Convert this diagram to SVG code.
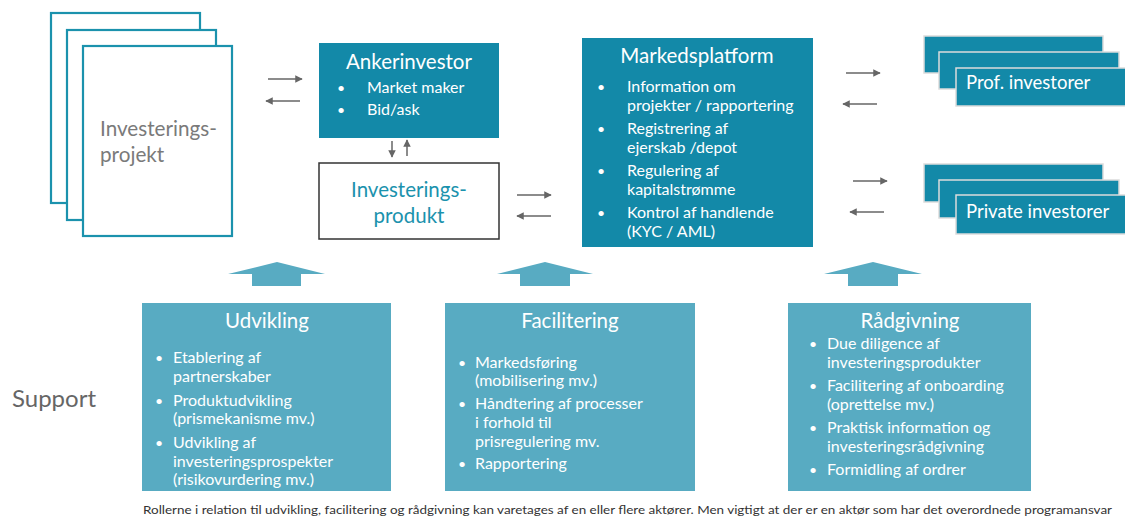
<svg xmlns="http://www.w3.org/2000/svg" width="1125" height="519" viewBox="0 0 1125 519">
  <style>
    text { font-family: Lato, "Open Sans", "Liberation Sans", sans-serif; }
    .page { fill: #ffffff; stroke: #1b92ad; stroke-width: 2.2; }
    .dark { fill: #1389a8; }
    .inv { fill: #1389a8; stroke: #dcdcdc; stroke-width: 1.5; }
    .light { fill: #58abc2; }
    .up { fill: #58abc2; }
    .title { fill: #ffffff; font-size: 20.5px; text-anchor: middle; }
    .item { fill: #ffffff; font-size: 16px; }
    .bul { fill: #ffffff; font-size: 14px; }
    .conn { stroke: #666666; stroke-width: 1.5; fill: none; marker-end: url(#ah); }
  </style>
  <defs>
    <marker id="ah" viewBox="0 0 10 10" refX="9" refY="5" markerWidth="5" markerHeight="5" orient="auto" markerUnits="strokeWidth">
      <path d="M0,0 L10,5 L0,10 z" fill="#666666"/>
    </marker>
  </defs>
  <rect width="1125" height="519" fill="#ffffff"/>

  <!-- project stack -->
  <g id="investeringsprojekt">
    <rect class="page" x="51" y="13" width="149" height="190"/>
    <rect class="page" x="67" y="30" width="149" height="190"/>
    <rect class="page" x="83" y="46" width="149" height="190"/>
    <text x="100" y="136" font-size="20.7" fill="#7a7a7a">Investerings-</text>
    <text x="100" y="162" font-size="20.7" fill="#7a7a7a">projekt</text>
  </g>

  <g id="ankerinvestor">
    <rect class="dark" x="319" y="43" width="180" height="95"/>
    <text class="title" x="409" y="69">Ankerinvestor</text>
    <text class="bul" x="337" y="93">•</text>
    <text class="item" x="367" y="93">Market maker</text>
    <text class="bul" x="337" y="115">•</text>
    <text class="item" x="367" y="115">Bid/ask</text>
  </g>

  <g id="investeringsprodukt">
    <rect x="319" y="163" width="180" height="76" fill="#ffffff" stroke="#333333" stroke-width="1.5"/>
    <text x="409" y="197" font-size="20.5" fill="#1b92ad" text-anchor="middle">Investerings-</text>
    <text x="409" y="223" font-size="20.5" fill="#1b92ad" text-anchor="middle">produkt</text>
  </g>

  <g id="markedsplatform">
    <rect class="dark" x="582" y="38" width="231" height="209"/>
    <text class="title" x="697" y="63">Markedsplatform</text>
    <text class="bul" x="597" y="92">•</text>
    <text class="item" x="627" y="92">Information om</text>
    <text class="item" x="627" y="111">projekter / rapportering</text>
    <text class="bul" x="597" y="134">•</text>
    <text class="item" x="627" y="134">Registrering af</text>
    <text class="item" x="627" y="153">ejerskab /depot</text>
    <text class="bul" x="597" y="176">•</text>
    <text class="item" x="627" y="176">Regulering af</text>
    <text class="item" x="627" y="195">kapitalstrømme</text>
    <text class="bul" x="597" y="218">•</text>
    <text class="item" x="627" y="218">Kontrol af handlende</text>
    <text class="item" x="627" y="237">(KYC / AML)</text>
  </g>

  <g id="prof-investorer">
    <rect class="inv" x="924" y="36" width="179" height="37"/>
    <rect class="inv" x="939" y="52" width="180" height="37"/>
    <rect class="inv" x="956" y="68" width="175" height="38"/>
    <text x="966" y="89" font-size="18.5" fill="#ffffff">Prof. investorer</text>
  </g>

  <g id="private-investorer">
    <rect class="inv" x="924" y="164" width="179" height="38"/>
    <rect class="inv" x="939" y="180" width="180" height="38"/>
    <rect class="inv" x="956" y="195" width="175" height="39"/>
    <text x="966" y="218" font-size="18.5" fill="#ffffff">Private investorer</text>
  </g>

  <g id="connectors">
    <line class="conn" x1="268" y1="79" x2="302" y2="79"/>
    <line class="conn" x1="300" y1="101" x2="266" y2="101"/>
    <line class="conn" x1="392" y1="141" x2="392" y2="157"/>
    <line class="conn" x1="407" y1="156" x2="407" y2="140"/>
    <line class="conn" x1="517" y1="195" x2="551" y2="195"/>
    <line class="conn" x1="551" y1="216" x2="517" y2="216"/>
    <line class="conn" x1="846" y1="73" x2="880" y2="73"/>
    <line class="conn" x1="877" y1="104" x2="843" y2="104"/>
    <line class="conn" x1="853" y1="181" x2="887" y2="181"/>
    <line class="conn" x1="884" y1="212" x2="850" y2="212"/>
    <!-- block arrows from support boxes -->
    <path class="up" d="M277,262 L325,274 L301,274 L301,286 L252,286 L252,274 L228,274 Z"/>
    <path class="up" d="M545,262 L593,274 L570,274 L570,286 L520,286 L520,274 L497,274 Z"/>
    <path class="up" d="M873,262 L922,274 L898,274 L898,286 L848,286 L848,274 L824,274 Z"/>
  </g>

  <g id="udvikling">
    <rect class="light" x="142" y="303" width="249" height="188"/>
    <text class="title" x="267" y="328">Udvikling</text>
    <text class="bul" x="155" y="363">•</text>
    <text class="item" x="173" y="363">Etablering af</text>
    <text class="item" x="173" y="382">partnerskaber</text>
    <text class="bul" x="155" y="406">•</text>
    <text class="item" x="173" y="406">Produktudvikling</text>
    <text class="item" x="173" y="424">(prismekanisme mv.)</text>
    <text class="bul" x="155" y="448">•</text>
    <text class="item" x="173" y="448">Udvikling af</text>
    <text class="item" x="173" y="467">investeringsprospekter</text>
    <text class="item" x="173" y="485">(risikovurdering mv.)</text>
  </g>

  <g id="facilitering">
    <rect class="light" x="445" y="303" width="250" height="188"/>
    <text class="title" x="570" y="328">Facilitering</text>
    <text class="bul" x="458" y="368">•</text>
    <text class="item" x="475" y="368">Markedsføring</text>
    <text class="item" x="475" y="386">(mobilisering mv.)</text>
    <text class="bul" x="458" y="409">•</text>
    <text class="item" x="475" y="409">Håndtering af processer</text>
    <text class="item" x="475" y="428">i forhold til</text>
    <text class="item" x="475" y="447">prisregulering mv.</text>
    <text class="bul" x="458" y="469">•</text>
    <text class="item" x="475" y="469">Rapportering</text>
  </g>

  <g id="raadgivning">
    <rect class="light" x="788" y="303" width="243" height="188"/>
    <text class="title" x="910" y="328">Rådgivning</text>
    <text class="bul" x="809" y="349">•</text>
    <text class="item" x="827" y="349">Due diligence af</text>
    <text class="item" x="827" y="368">investeringsprodukter</text>
    <text class="bul" x="809" y="391">•</text>
    <text class="item" x="827" y="391">Facilitering af onboarding</text>
    <text class="item" x="827" y="410">(oprettelse mv.)</text>
    <text class="bul" x="809" y="433">•</text>
    <text class="item" x="827" y="433">Praktisk information og</text>
    <text class="item" x="827" y="452">investeringsrådgivning</text>
    <text class="bul" x="809" y="475">•</text>
    <text class="item" x="827" y="475">Formidling af ordrer</text>
  </g>

  <text x="12" y="407" font-size="24" fill="#666666">Support</text>
  <text x="143" y="514" font-size="11.5" fill="#333333" textLength="969" lengthAdjust="spacingAndGlyphs">Rollerne i relation til udvikling, facilitering og rådgivning kan varetages af en eller flere aktører. Men vigtigt at der er en aktør som har det overordnede programansvar</text>
</svg>
